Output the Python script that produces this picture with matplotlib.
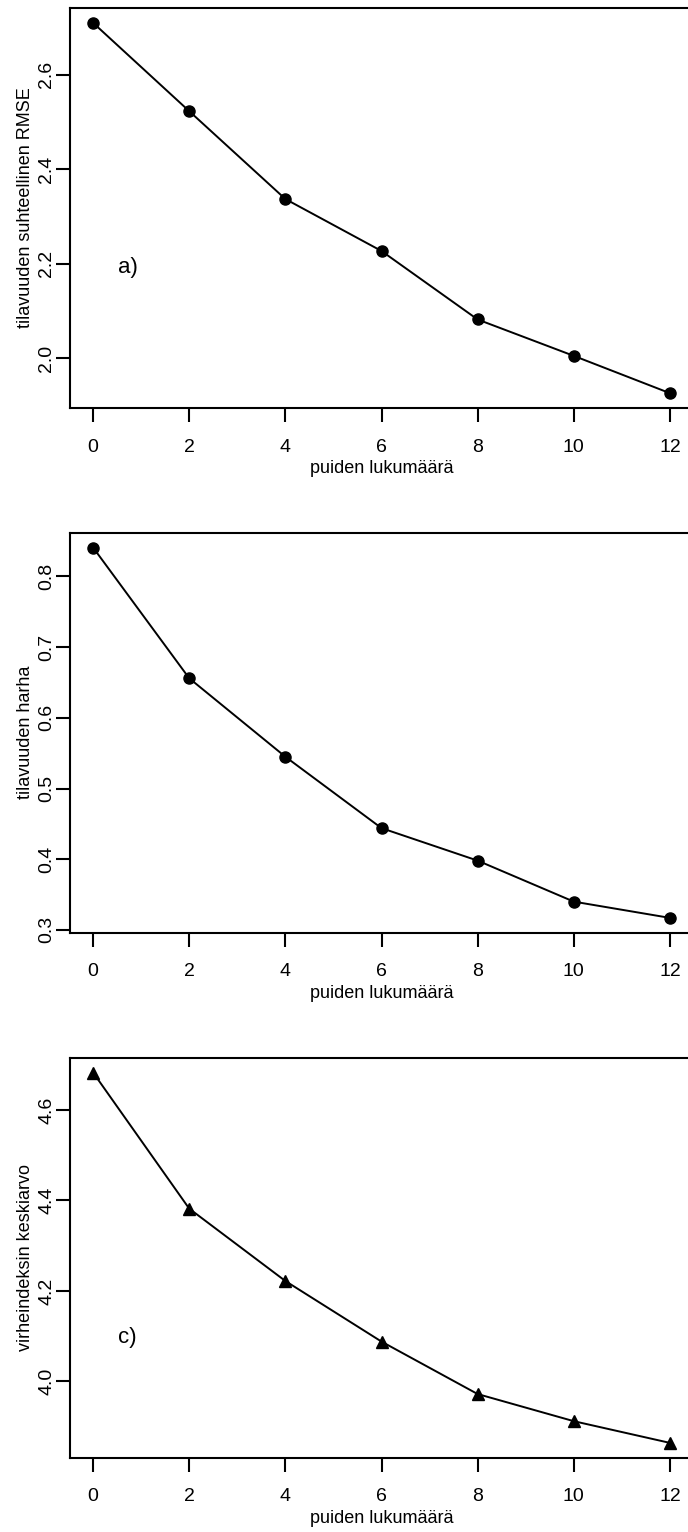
import numpy as np
import matplotlib
matplotlib.use('Agg')
import matplotlib.pyplot as plt

plt.rcParams['font.family'] = ['Liberation Sans', 'DejaVu Sans']

# datat
puut = [0, 2, 4, 6, 8, 10, 12]
rmse = [2.710, 2.523, 2.337, 2.227, 2.082, 2.005, 1.926]
harha = [0.841, 0.656, 0.545, 0.444, 0.398, 0.340, 0.317]
virheindeksi = [4.683, 4.382, 4.222, 4.088, 3.972, 3.912, 3.864]

y_ticks_a = [2.0, 2.2, 2.4, 2.6]
y_ticks_b = [0.3, 0.4, 0.5, 0.6, 0.7, 0.8]
y_ticks_c = [4.0, 4.2, 4.4, 4.6]
x_ticks = [0, 2, 4, 6, 8, 10, 12]

paneelit = [
    (rmse, 'o', 'tilavuuden suhteellinen RMSE', y_ticks_a, 'a)', 2.192),
    (harha, 'o', 'tilavuuden harha', y_ticks_b, None, None),
    (virheindeksi, '^', 'virheindeksin keskiarvo', y_ticks_c, 'c)', 4.096),
]

W, H = 688, 1532
fig = plt.figure(figsize=(W / 100, H / 100), dpi=100)

tops = [8, 532.7, 1057.7]
korkeus = 400
vasen = 70
leveys = 623

for (y, merkki, otsikko, yt, tunnus, tunnus_y), top in zip(paneelit, tops):
    ax = fig.add_axes([vasen / W, 1 - (top + korkeus) / H, leveys / W, korkeus / H])
    ms = 8 if merkki == 'o' else 9
    ax.plot(puut, y, color='black', lw=1.4, marker=merkki, ms=ms)

    # R-tyylinen 4 % marginaali
    ax.set_xlim(-0.48, 12.48)
    r = max(y) - min(y)
    ax.set_ylim(min(y) - 0.04 * r, max(y) + 0.04 * r)

    ax.set_xticks(x_ticks)
    ax.set_xticklabels([str(t) for t in x_ticks])
    ax.set_yticks(yt)
    ax.set_yticklabels([f'{t:.1f}' for t in yt], rotation=90, va='center')

    for s in ax.spines.values():
        s.set_linewidth(1.5)
    ax.tick_params(direction='out', length=10, width=1.5, labelsize=14)
    ax.tick_params(axis='x', pad=12)
    ax.tick_params(axis='y', pad=0.5)

    ax.set_xlabel('puiden lukumäärä', fontsize=13)
    ax.xaxis.set_label_coords(0.5, -0.13)
    ax.set_ylabel(otsikko, fontsize=13)
    ax.yaxis.set_label_coords(-0.058, 0.5)

    if tunnus:
        ax.text(0.72, tunnus_y, tunnus, fontsize=16, ha='center', va='center')

fig.savefig('out.png', dpi=100)
